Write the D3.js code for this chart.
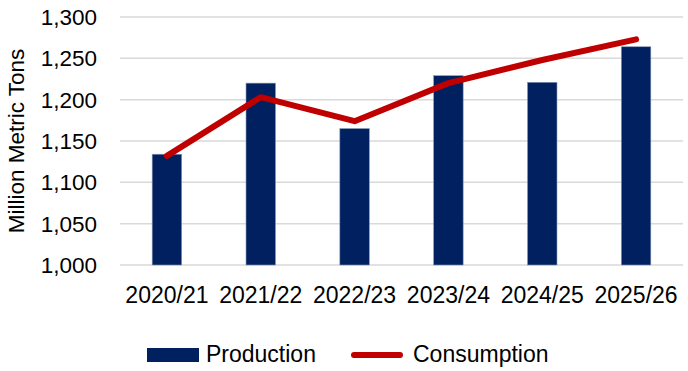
<!DOCTYPE html>
<html>
<head>
<meta charset="utf-8">
<script src="https://cdn.jsdelivr.net/npm/d3@7"></script>
<style>
  body { margin: 0; background: #fff; }
  text { font-family: "Liberation Sans", Arial, sans-serif; fill: #000; }
</style>
</head>
<body>
<div id="chart"></div>
<script>
const years = ["2020/21", "2021/22", "2022/23", "2023/24", "2024/25", "2025/26"];
const production = [1134, 1220, 1165, 1229, 1221, 1264];
const consumption = [1132, 1203, 1174, 1220, 1248, 1273];
const yTicks = [1000, 1050, 1100, 1150, 1200, 1250, 1300];

const W = 688, H = 371;
const margin = { top: 17, left: 120 };
const width = 683 - margin.left;
const height = 265 - margin.top;

const svg = d3.select("#chart").append("svg")
  .attr("width", W).attr("height", H);
const g = svg.append("g").attr("transform", `translate(${margin.left},${margin.top})`);

const x = d3.scaleBand().domain(years).range([0, width]).paddingInner(0.686).paddingOuter(0.343);
const y = d3.scaleLinear().domain([1000, 1300]).range([height, 0]);

// gridlines
g.selectAll(".grid").data(yTicks).enter().append("line")
  .attr("x1", 0).attr("x2", width)
  .attr("y1", d => y(d)).attr("y2", d => y(d))
  .attr("stroke", "#d9d9d9").attr("stroke-width", 1.5);

// y axis labels
g.selectAll(".ylab").data(yTicks).enter().append("text")
  .attr("x", -23).attr("y", d => y(d))
  .attr("dy", "0.35em").attr("text-anchor", "end")
  .attr("font-size", 22.5)
  .text(d => d3.format(",")(d));

// x axis labels
g.selectAll(".xlab").data(years).enter().append("text")
  .attr("x", d => x(d) + x.bandwidth() / 2).attr("y", height + 38)
  .attr("text-anchor", "middle").attr("font-size", 23)
  .text(d => d);

// axis title
svg.append("text")
  .attr("transform", `translate(24,${margin.top + height / 2}) rotate(-90)`)
  .attr("text-anchor", "middle").attr("font-size", 22.5)
  .text("Million Metric Tons");

// bars
g.selectAll(".bar").data(production).enter().append("rect")
  .attr("x", (d, i) => x(years[i]))
  .attr("y", d => y(d))
  .attr("width", x.bandwidth())
  .attr("height", d => height - y(d))
  .attr("fill", "#002060")
  .attr("stroke", "#8497b0").attr("stroke-width", 0.6);

// line
const line = d3.line()
  .x((d, i) => x(years[i]) + x.bandwidth() / 2)
  .y(d => y(d));
g.append("path").datum(consumption)
  .attr("d", line).attr("fill", "none")
  .attr("stroke", "#c00000").attr("stroke-width", 6)
  .attr("stroke-linecap", "round").attr("stroke-linejoin", "round");

// legend
const leg = svg.append("g");
leg.append("rect").attr("x", 147).attr("y", 348).attr("width", 52).attr("height", 14)
  .attr("fill", "#002060");
leg.append("text").attr("x", 206).attr("y", 361.5)
  .attr("font-size", 23).text("Production");
leg.append("line").attr("x1", 354).attr("x2", 400).attr("y1", 355).attr("y2", 355)
  .attr("stroke", "#c00000").attr("stroke-width", 6).attr("stroke-linecap", "round");
leg.append("text").attr("x", 413).attr("y", 361.5)
  .attr("font-size", 23).text("Consumption");
</script>
</body>
</html>
